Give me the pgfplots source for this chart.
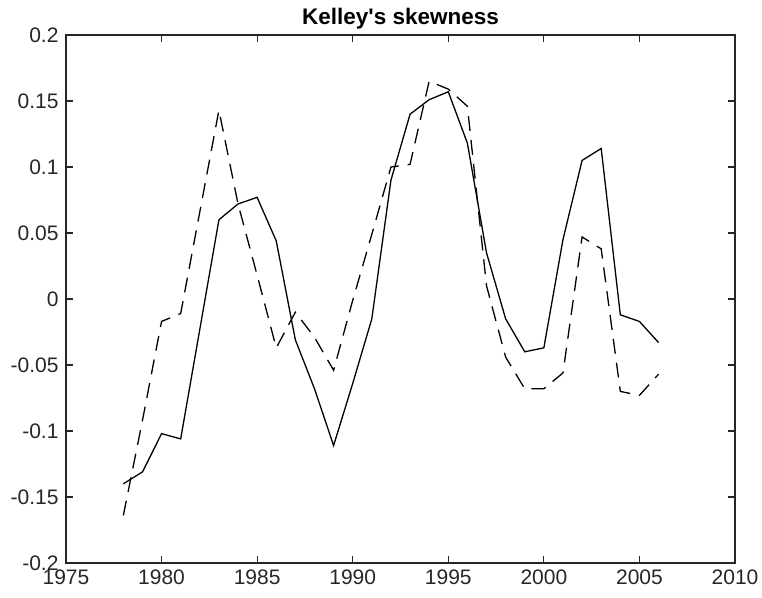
\documentclass[border=0pt]{standalone}
\usepackage{fontspec}
\setmainfont{Liberation Sans}
\usepackage{pgfplots}
\pgfplotsset{compat=1.18}
\definecolor{axgray}{HTML}{262626}

\begin{document}
\begin{tikzpicture}
\begin{axis}[
  name=ax,
  scale only axis,
  width=669pt, height=528pt,
  xmin=1975, xmax=2010,
  ymin=-0.2, ymax=0.2,
  xtick={1975,1980,...,2010},
  xticklabels={1975,1980,1985,1990,1995,2000,2005,2010},
  ytick={-0.2,-0.15,-0.1,-0.05,0,0.05,0.1,0.15,0.2},
  yticklabels={-0.2,-0.15,-0.1,-0.05,0,0.05,0.1,0.15,0.2},
  tick align=inside,
  major tick length=7pt,
  axis line style={axgray, line width=1.1pt},
  every tick/.style={axgray, line width=1.1pt},
  tick label style={font=\fontsize{21}{23}\selectfont, text=axgray},
  xticklabel style={yshift=-3pt},
  yticklabel style={xshift=-4pt},
  title={\textbf{Kelley\textquotesingle s skewness}},
  title style={font=\fontsize{22.5}{24}\selectfont, yshift=-4pt},
]
% solid series
\addplot[black, line width=1.3pt] coordinates {
(1978,-0.140) (1979,-0.131) (1980,-0.102) (1981,-0.106) (1982,-0.023)
(1983,0.060) (1984,0.072) (1985,0.077) (1986,0.044) (1987,-0.031)
(1988,-0.068) (1989,-0.111) (1990,-0.064) (1991,-0.015) (1992,0.090)
(1993,0.140) (1994,0.151) (1995,0.157) (1996,0.118) (1997,0.035)
(1998,-0.015) (1999,-0.040) (2000,-0.037) (2001,0.045) (2002,0.105)
(2003,0.114) (2004,-0.012) (2005,-0.017) (2006,-0.033)
};
% dashed series
\addplot[black, line width=1.3pt, dash pattern=on 15pt off 9pt] coordinates {
(1978,-0.164) (1979,-0.092) (1980,-0.017) (1981,-0.011) (1982,0.066)
(1983,0.143) (1984,0.072) (1985,0.018) (1986,-0.037) (1987,-0.010)
(1988,-0.029) (1989,-0.054) (1990,-0.001) (1991,0.049) (1992,0.100)
(1993,0.102) (1994,0.165) (1995,0.159) (1996,0.146) (1997,0.010)
(1998,-0.044) (1999,-0.068) (2000,-0.068) (2001,-0.056) (2002,0.047)
(2003,0.038) (2004,-0.070) (2005,-0.073) (2006,-0.057)
};
\end{axis}
\pgfresetboundingbox
\path[use as bounding box] ([xshift=-66pt,yshift=-34pt]ax.south west)
  rectangle ([xshift=27pt,yshift=35pt]ax.north east);
\end{tikzpicture}
\end{document}
